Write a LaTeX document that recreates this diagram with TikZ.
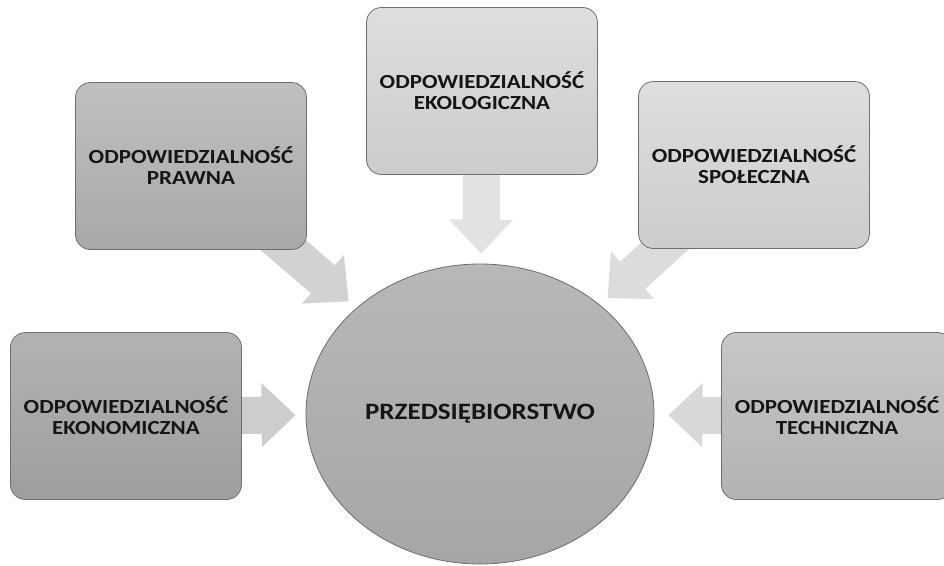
\documentclass[tikz,border=0pt]{standalone}
\usepackage{fontspec}
\setmainfont{Carlito}[FakeStretch=1.15]
\usetikzlibrary{arrows.meta,shapes.geometric,backgrounds}
\definecolor{ink}{HTML}{151515}
\definecolor{edge}{HTML}{6E6E6E}
\definecolor{arrowa}{HTML}{CDCDCD}
\definecolor{arrowb}{HTML}{D2D2D2}
\definecolor{arrowc}{HTML}{E2E2E2}
\definecolor{arrowd}{HTML}{DCDCDC}
\definecolor{arrowe}{HTML}{D8D8D8}
\tikzset{
  resp/.style={draw=edge,line width=.8pt,rounded corners=15pt,minimum width=231pt,minimum height=167pt,inner sep=0pt,align=center,font=\bfseries\fontsize{20}{21}\selectfont,text=ink},
  respdark/.style={resp,top color=black!30,bottom color=black!38},
  respmid/.style={resp,top color=black!25,bottom color=black!34},
  resplight/.style={resp,top color=black!13,bottom color=black!20},
  firm/.style={ellipse,draw=edge,line width=.8pt,minimum width=348pt,minimum height=300pt,inner sep=0pt,top color=black!28,bottom color=black!35,font=\bfseries\fontsize{23.5}{25}\selectfont,text=ink},
  ar/.style={-{Triangle[width=62pt,length=34pt]},line width=37pt,shorten >=10pt},
}
\begin{document}
\begin{tikzpicture}[x=1pt,y=-1pt]
  \useasboundingbox (0,0) rectangle (944,565);
  \node[firm] (firm) at (480,414) {PRZEDSIĘBIORSTWO};

  \node[respmid] (prawna) at (191,166) {ODPOWIEDZIALNOŚĆ\\PRAWNA};
  \node[resplight] (ekolog) at (482,91) {ODPOWIEDZIALNOŚĆ\\EKOLOGICZNA};
  \node[resplight] (spolecz) at (754,165) {ODPOWIEDZIALNOŚĆ\\SPOŁECZNA};
  \node[respdark] (ekonom) at (126,416) {ODPOWIEDZIALNOŚĆ\\EKONOMICZNA};
  \node[resp,top color=black!22,bottom color=black!30] (techn) at (837,416) {ODPOWIEDZIALNOŚĆ\\TECHNICZNA};

  \begin{scope}[on background layer]
    \draw[ar,draw=arrowb] (prawna.center) -- (firm);
    \draw[ar,draw=arrowc] (ekolog.center) -- (firm);
    \draw[ar,draw=arrowd] (spolecz.center) -- (firm);
    \draw[ar,draw=arrowa] (ekonom.center) -- (firm);
    \draw[ar,draw=arrowe,shorten >=14pt] (techn.center) -- (firm);
  \end{scope}
\end{tikzpicture}
\end{document}
